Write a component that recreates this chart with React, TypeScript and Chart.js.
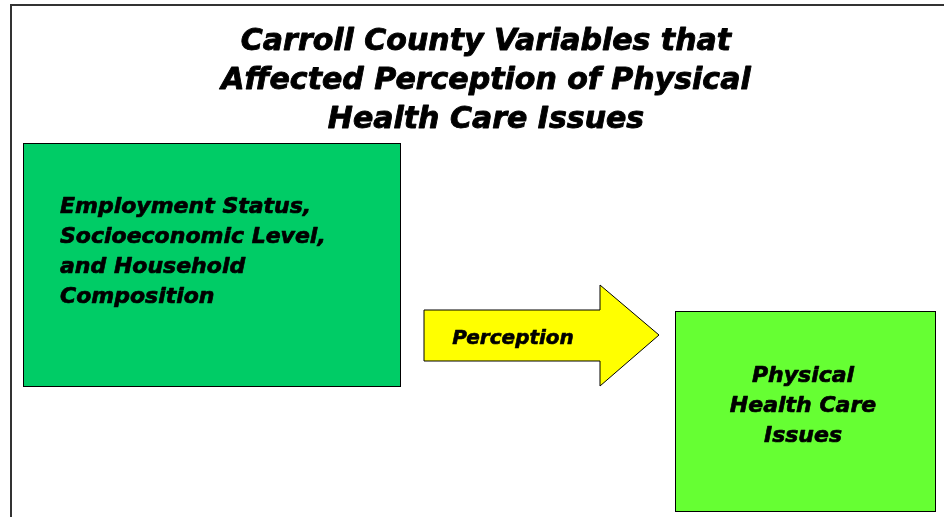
import React, { useEffect, useRef } from "react";
import { Chart, registerables } from "chart.js";

Chart.register(...registerables);

// Diagram content (in a 944 x 517 coordinate space)
const titleLines = ["Carroll County Variables that", "Affected Perception of Physical", "Health Care Issues"];
const leftBoxLines = ["Employment Status,", "Socioeconomic Level,", "and Household", "Composition"];
const rightBoxLines = ["Physical", "Health Care", "Issues"];
const arrowLabel = "Perception";

// Boxes: [x0, y0, x1, y1]
const leftBox = [23, 143, 400, 386];
const rightBox = [675, 311, 935, 511];
// Arrow polygon vertices
const arrowX = [424, 600, 600, 659, 600, 600, 424];
const arrowY = [310, 310, 285, 335, 386, 361, 361];
// Frame lines
const frameX = [944, 11, 11];
const frameY = [5, 5, 517];

const FONT = "'DejaVu Sans', Verdana, sans-serif";

const diagramPlugin = {
  id: "diagram",
  afterDraw(chart: any) {
    const ctx = chart.ctx as CanvasRenderingContext2D;
    const xs = chart.scales.x;
    const ys = chart.scales.y;
    const px = (v: number) => xs.getPixelForValue(v);
    const py = (v: number) => ys.getPixelForValue(v);
    ctx.save();

    // frame
    ctx.strokeStyle = "#333333";
    ctx.lineWidth = 2;
    ctx.beginPath();
    frameX.forEach((x, i) => (i ? ctx.lineTo(px(x), py(frameY[i])) : ctx.moveTo(px(x), py(frameY[i]))));
    ctx.stroke();

    const rect = (b: number[], fill: string) => {
      ctx.fillStyle = fill;
      ctx.fillRect(px(b[0]), py(b[1]), px(b[2]) - px(b[0]), py(b[3]) - py(b[1]));
      ctx.strokeStyle = "#000";
      ctx.lineWidth = 1;
      ctx.strokeRect(px(b[0]) + 0.5, py(b[1]) + 0.5, px(b[2]) - px(b[0]), py(b[3]) - py(b[1]));
    };
    rect(leftBox, "#00CC66");
    rect(rightBox, "#66FF33");

    // arrow
    ctx.beginPath();
    arrowX.forEach((x, i) => (i ? ctx.lineTo(px(x), py(arrowY[i])) : ctx.moveTo(px(x), py(arrowY[i]))));
    ctx.closePath();
    ctx.fillStyle = "#FFFF00";
    ctx.fill();
    ctx.strokeStyle = "#000";
    ctx.lineWidth = 1;
    ctx.stroke();

    ctx.fillStyle = "#000";
    ctx.strokeStyle = "#000";
    ctx.textBaseline = "middle";
    ctx.lineJoin = "round";
    const txt = (t: string, x: number, y: number, w: number) => {
      ctx.fillText(t, x, y);
      ctx.lineWidth = w;
      ctx.strokeText(t, x, y);
    };

    // title
    ctx.font = `italic bold 30px ${FONT}`;
    ctx.textAlign = "center";
    titleLines.forEach((t, i) => txt(t, px(486), py(42 + i * 39), 0.9));

    // left box
    ctx.font = `italic bold 22px ${FONT}`;
    ctx.textAlign = "left";
    leftBoxLines.forEach((t, i) => txt(t, px(60), py(207 + i * 30), 0.7));

    // arrow label
    ctx.font = `italic bold 20px ${FONT}`;
    ctx.textAlign = "center";
    txt(arrowLabel, px(513), py(339), 0.6);

    // right box
    ctx.font = `italic bold 22px ${FONT}`;
    rightBoxLines.forEach((t, i) => txt(t, px(803), py(376 + i * 30), 0.7));

    ctx.restore();
  },
};

export default function App() {
  const ref = useRef<HTMLCanvasElement | null>(null);
  useEffect(() => {
    document.body.style.margin = "0";
    const chart = new Chart(ref.current!, {
      type: "scatter",
      data: { datasets: [{ data: [], pointRadius: 0 }] },
      options: {
        animation: false,
        responsive: false,
        maintainAspectRatio: false,
        layout: { padding: 0 },
        plugins: { legend: { display: false }, tooltip: { enabled: false }, title: { display: false } },
        scales: {
          x: { type: "linear", min: 0, max: 944, display: false },
          y: { type: "linear", min: 0, max: 517, reverse: true, display: false },
        },
      },
      plugins: [diagramPlugin],
    });
    return () => chart.destroy();
  }, []);
  return (
    <div style={{ position: "fixed", left: 0, top: 0, width: 944, height: 517, background: "#fff" }}>
      <canvas ref={ref} width={944} height={517} style={{ width: 944, height: 517 }} />
    </div>
  );
}
